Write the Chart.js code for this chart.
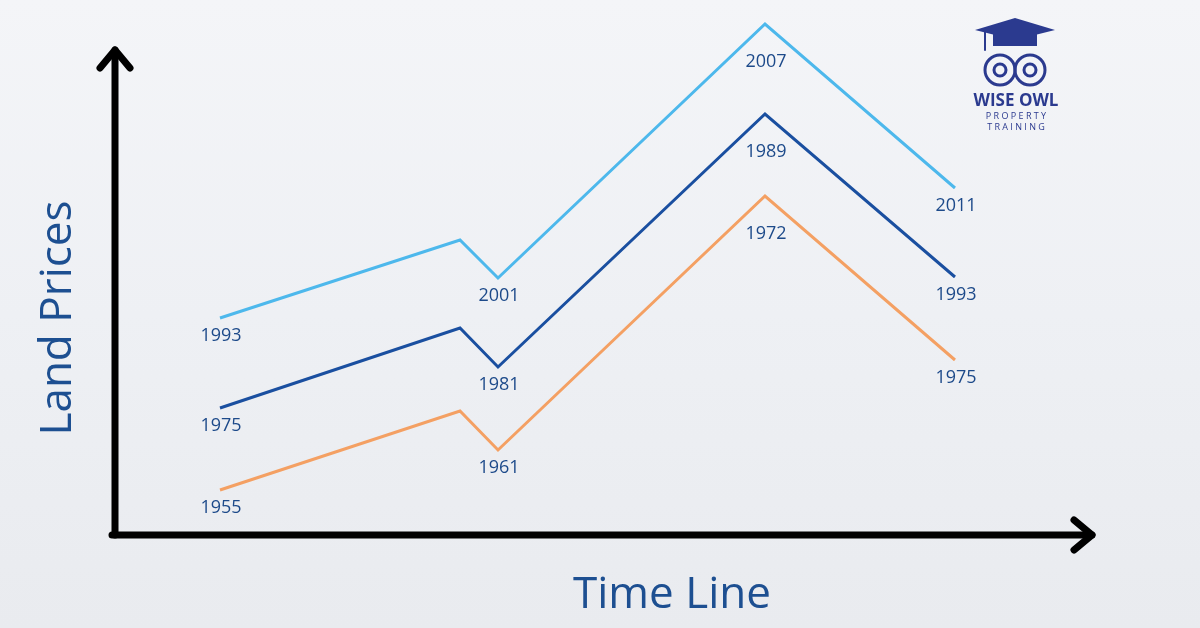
<!DOCTYPE html>
<html><head><meta charset="utf-8">
<script src="https://cdn.jsdelivr.net/npm/chart.js@4"></script>
<style>
html,body{margin:0;padding:0;width:1200px;height:628px;overflow:hidden;}
body{background:linear-gradient(180deg,#f4f5f8 0%,#eef0f4 50%,#e9ebef 100%);}
#wrap{position:absolute;left:0;top:0;width:1200px;height:628px;}
</style></head><body>
<div id="wrap"><canvas id="c" width="1200" height="628"></canvas></div>
<script>
// Time positions (arbitrary timeline units) and land price levels
const timeSteps = [220, 460, 498, 765, 955];
const cycleA = [310, 388, 350, 604, 440];   // light blue
const cycleB = [220, 300, 261, 514, 351];   // dark blue
const cycleC = [138, 217, 178, 432, 268];   // orange
const labelsA = ['1993', '', '2001', '2007', '2011'];
const labelsB = ['1975', '', '1981', '1989', '1993'];
const labelsC = ['1955', '', '1961', '1972', '1975'];
const peakIndex = 3;

const mk = (vals, color, labs) => ({
  data: vals.map((v, i) => ({x: timeSteps[i], y: v})),
  borderColor: color, borderWidth: 3, pointRadius: 0, tension: 0, fill: false, yearLabels: labs
});

const deco = {
  id: 'deco',
  afterDatasetsDraw(chart) {
    const ctx = chart.ctx;
    ctx.save();
    // year labels
    ctx.fillStyle = '#1d4a8a';
    ctx.font = '18px "Open Sans", sans-serif';
    ctx.textAlign = 'center'; ctx.textBaseline = 'middle';
    chart.data.datasets.forEach((ds, di) => {
      const meta = chart.getDatasetMeta(di);
      meta.data.forEach((pt, i) => {
        const t = ds.yearLabels[i];
        if (!t) return;
        ctx.fillText(t, pt.x + 1, pt.y + (i === peakIndex ? 38 : 18));
      });
    });
    // axes
    ctx.strokeStyle = '#000'; ctx.fillStyle = '#000';
    ctx.lineWidth = 7; ctx.lineCap = 'round'; ctx.lineJoin = 'round';
    ctx.beginPath(); ctx.moveTo(115, 535); ctx.lineTo(115, 50); ctx.stroke();
    ctx.beginPath(); ctx.moveTo(100, 68); ctx.lineTo(115, 50); ctx.lineTo(130, 68); ctx.stroke();
    ctx.beginPath(); ctx.moveTo(112, 535); ctx.lineTo(1092, 535); ctx.stroke();
    ctx.beginPath(); ctx.moveTo(1074, 520); ctx.lineTo(1092, 535); ctx.lineTo(1074, 550); ctx.stroke();
    // axis titles
    ctx.fillStyle = '#1d4f91';
    ctx.font = '44px "Open Sans", sans-serif';
    ctx.fillText('Time Line', 672, 595);
    ctx.save(); ctx.translate(58, 318); ctx.rotate(-Math.PI / 2);
    ctx.fillText('Land Prices', 0, 0); ctx.restore();
    // logo
    const nv = '#2b3a8f';
    ctx.fillStyle = nv;
    ctx.beginPath(); ctx.moveTo(975, 30); ctx.lineTo(1015, 18); ctx.lineTo(1055, 30); ctx.lineTo(1015, 40); ctx.closePath(); ctx.fill();
    ctx.fillRect(993, 34, 44, 12);
    ctx.strokeStyle = nv; ctx.lineWidth = 2;
    ctx.beginPath(); ctx.moveTo(985, 32); ctx.lineTo(985, 50); ctx.stroke();
    ctx.lineWidth = 3;
    ctx.beginPath(); ctx.arc(1000, 70, 15, 0, Math.PI * 2); ctx.stroke();
    ctx.beginPath(); ctx.arc(1030, 70, 15, 0, Math.PI * 2); ctx.stroke();
    ctx.beginPath(); ctx.arc(1000, 70, 6, 0, Math.PI * 2); ctx.stroke();
    ctx.beginPath(); ctx.arc(1030, 70, 6, 0, Math.PI * 2); ctx.stroke();
    ctx.font = 'bold 17px "Open Sans", sans-serif';
    ctx.fillText('WISE OWL', 1016, 101);
    ctx.font = '9px "Open Sans", sans-serif';
    ctx.fillText('P R O P E R T Y', 1016, 116);
    ctx.fillText('T R A I N I N G', 1016, 127);
    ctx.restore();
  }
};

new Chart(document.getElementById('c'), {
  type: 'line',
  data: { datasets: [mk(cycleA, '#4db8ec', labelsA), mk(cycleB, '#1a4fa0', labelsB), mk(cycleC, '#f4a063', labelsC)] },
  options: {
    responsive: false, animation: false,
    layout: { padding: 0 },
    plugins: { legend: { display: false }, tooltip: { enabled: false } },
    scales: {
      x: { type: 'linear', min: 0, max: 1200, display: false },
      y: { type: 'linear', min: 0, max: 628, display: false }
    }
  },
  plugins: [deco]
});
</script>
</body></html>
